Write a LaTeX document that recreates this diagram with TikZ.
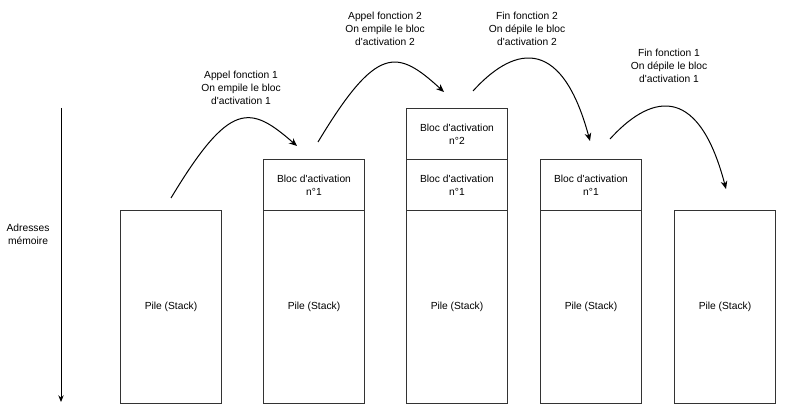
\documentclass[tikz,border=0pt]{standalone}
\usepackage{fontspec}
\setmainfont{Liberation Sans}
\usetikzlibrary{arrows.meta}
\newcommand{\ap}{\textquotesingle}
\tikzset{
  stackbox/.style={draw=black!80, line width=0.75pt, anchor=north west, inner sep=0pt,
    minimum width=75.75pt, minimum height=144.75pt, font=\fontsize{7.7}{9.75}\selectfont},
  blocbox/.style={draw=black!80, line width=0.75pt, anchor=north west, inner sep=0pt,
    minimum width=75.75pt, minimum height=38.25pt, align=center, font=\fontsize{7.7}{9.75}\selectfont},
  lbl/.style={align=center, inner sep=0pt, font=\fontsize{7.7}{9.75}\selectfont},
  flow/.style={line width=0.75pt, -{Stealth[length=6pt,width=5pt]}},
}
\begin{document}
\begin{tikzpicture}[x=0.75pt,y=-0.75pt]
\useasboundingbox (0,0) rectangle (799,417);
% axis
\coordinate (axtop) at (61,108);
\coordinate (axbot) at (61,402);
\draw[line width=0.75pt, -{Stealth[length=5pt,width=4pt]}] (axtop) -- (axbot);
\node[lbl] (axlbl) at (28,234.5) {Adresses\\mémoire};
% stacks
\node[stackbox] (s1) at (120,210) {Pile (Stack)};
\node[stackbox] (s2) at (263,210) {Pile (Stack)};
\node[stackbox] (s3) at (406,210) {Pile (Stack)};
\node[stackbox] (s4) at (540,210) {Pile (Stack)};
\node[stackbox] (s5) at (674,210) {Pile (Stack)};
% blocs
\node[blocbox] (b21) at (263,159) {Bloc d\ap activation\\n°1};
\node[blocbox] (b31) at (406,159) {Bloc d\ap activation\\n°1};
\node[blocbox] (b32) at (406,108) {Bloc d\ap activation\\n°2};
\node[blocbox] (b41) at (540,159) {Bloc d\ap activation\\n°1};
% arrow endpoints
\coordinate (a1s) at (171,198); \coordinate (a1e) at (297,146);
\coordinate (a2s) at (318,142); \coordinate (a2e) at (444,92);
\coordinate (a3s) at (473,91);  \coordinate (a3e) at (590,141);
\coordinate (a4s) at (610,139); \coordinate (a4e) at (726,189);
\draw[flow] (a1s) .. controls (230,100) and (250,105) .. (a1e);
\draw[flow] (a2s) .. controls (377,44) and (397,49) .. (a2e);
\draw[flow] (a3s) .. controls (510,50) and (560,30) .. (a3e);
\draw[flow] (a4s) .. controls (647,98) and (697,78) .. (a4e);
% labels
\node[lbl] (l1) at (241,88) {Appel fonction 1\\On empile le bloc\\d\ap activation 1};
\node[lbl] (l2) at (385,29) {Appel fonction 2\\On empile le bloc\\d\ap activation 2};
\node[lbl] (l3) at (527,29) {Fin fonction 2\\On dépile le bloc\\d\ap activation 2};
\node[lbl] (l4) at (669,66) {Fin fonction 1\\On dépile le bloc\\d\ap activation 1};
\end{tikzpicture}
\end{document}
